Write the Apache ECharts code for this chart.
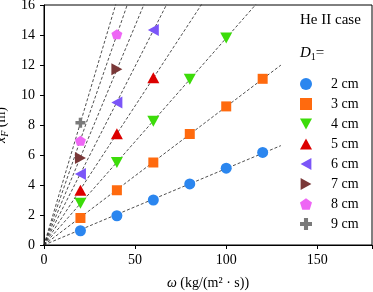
<!DOCTYPE html>
<html>
<head>
<meta charset="utf-8">
<script src="https://cdn.jsdelivr.net/npm/echarts@6/dist/echarts.min.js"></script>
<style>html,body{margin:0;padding:0;background:#fff}#c{width:373px;height:292px}</style>
</head>
<body>
<div id="c"></div>
<script>
// ---- data ----
const labels = ['2 cm','3 cm','4 cm','5 cm','6 cm','7 cm','8 cm','9 cm'];
const omega2 = [20,40,60,80,100,120];
const xf2    = [0.95,1.95,3.0,4.07,5.12,6.17];
const omega3 = [20,40,60,80,100,120];
const xf3    = [1.8,3.65,5.5,7.4,9.24,11.08];
const omega4 = [20,40,60,80,100];
const xf4    = [2.78,5.5,8.25,11.05,13.8];
const omega5 = [20,40,60];
const xf5    = [3.65,7.42,11.15];
const omega6 = [20,40,60];
const xf6    = [4.73,9.5,14.33];
const omega7 = [20,40];
const xf7    = [5.8,11.72];
const omega8 = [20,40];
const xf8    = [6.95,14.05];
const omega9 = [20];
const xf9    = [8.15];
const fitXMax = 130;
const xTicks = [0,50,100,150];
const yTicks = [0,2,4,6,8,10,12,14,16];

// ---- styles ----
const colors = ['#2b86ef','#ff6a0e','#3cdc0a','#dc0000','#7b55f8','#7a3838','#ee66f5','#7a7a7a'];
const symbols = [
  'circle',
  'rect',
  'path://M0,0 L10,0 L5,9 Z',
  'path://M5,0 L10,9 L0,9 Z',
  'path://M9,0 L9,10 L0,5 Z',
  'path://M0,0 L0,10 L9,5 Z',
  'path://M5,0 L10,3.6 L8.1,9.5 L1.9,9.5 L0,3.6 Z',
  'path://M3.3,0 L6.7,0 L6.7,3.3 L10,3.3 L10,6.7 L6.7,6.7 L6.7,10 L3.3,10 L3.3,6.7 L0,6.7 L0,3.3 L3.3,3.3 Z'
];
const sizes = [11,10,[12,11],[12,11],[11,12],[11,12],[11,10],[10,10]];

const groups = [[omega2,xf2],[omega3,xf3],[omega4,xf4],[omega5,xf5],[omega6,xf6],[omega7,xf7],[omega8,xf8],[omega9,xf9]];
const serif = 'Liberation Serif';

const series = [];
groups.forEach((g,i)=>{
  const [xs,ys] = g;
  let sxy=0, sxx=0;
  xs.forEach((x,k)=>{ sxy += x*ys[k]; sxx += x*x; });
  const slope = sxy/sxx;
  series.push({
    type:'line', data:[[0,0],[fitXMax, slope*fitXMax]], symbol:'none', silent:true,
    lineStyle:{color:'#222', width:0.8, type:[3,2]}, z:1, clip:true, legendHoverLink:false
  });
});
groups.forEach((g,i)=>{
  const [xs,ys] = g;
  series.push({
    name: labels[i], type:'scatter', data: xs.map((x,k)=>[x,ys[k]]),
    symbol: symbols[i], symbolSize: sizes[i],
    itemStyle:{color:colors[i], opacity:1}, z:3
  });
});

const chart = echarts.init(document.getElementById('c'), null, {renderer:'canvas'});
chart.setOption({
  animation:false,
  grid:{left:44, top:5, right:1, bottom:47, containLabel:false, outerBoundsMode:'none',
    show:true, borderColor:'#000', borderWidth:1, backgroundColor:'transparent'},
  xAxis:{
    type:'value', min:0, max:180, interval:50,
    axisLine:{show:true, lineStyle:{color:'#000', width:1}},
    axisTick:{show:true, length:4, inside:false, lineStyle:{color:'#000'}},
    axisLabel:{color:'#000', fontFamily:serif, fontSize:14, margin:8,
      formatter:v=> xTicks.includes(v) ? String(v) : ''},
    splitLine:{show:false},
    name:'{i|ω} (kg/(m² · s))', nameLocation:'middle', nameGap:31,
    nameTextStyle:{color:'#000', fontFamily:serif, fontSize:14,
      rich:{i:{fontFamily:serif, fontStyle:'italic', fontSize:14, color:'#000'}}}
  },
  yAxis:{
    type:'value', min:0, max:16, interval:2,
    axisLine:{show:true, lineStyle:{color:'#000', width:1}},
    axisTick:{show:true, length:4, inside:false, lineStyle:{color:'#000'}},
    axisLabel:{color:'#000', fontFamily:serif, fontSize:14, margin:9,
      formatter:v=> yTicks.includes(v) ? String(v) : ''},
    splitLine:{show:false},
    name:'{i|x}{s|F} (m)', nameLocation:'middle', nameGap:33,
    nameTextStyle:{color:'#000', fontFamily:serif, fontSize:14, lineHeight:18,
      rich:{
        i:{fontFamily:serif, fontStyle:'italic', fontSize:14, color:'#000', lineHeight:18},
        s:{fontFamily:serif, fontStyle:'italic', fontSize:10, color:'#000', verticalAlign:'bottom', lineHeight:14}
      }}
  },
  legend:{
    orient:'vertical', left:300, top:77, padding:0, itemGap:6,
    itemWidth:12, itemHeight:12,
    textStyle:{color:'#000', fontFamily:serif, fontSize:14, lineHeight:12, padding:[0,0,0,14]},
    data: labels.map((l,i)=>({name:l, icon:symbols[i], itemStyle:{color:colors[i]}})),
    selectedMode:false
  },
  graphic:[
    {type:'text', left:300, top:13, style:{text:'He II case', font:'15px "Liberation Serif"', fill:'#000'}},
    {type:'text', left:300, top:46, style:{
      text:'{i|D}{s|1}{n|=}', fill:'#000',
      rich:{
        i:{fontFamily:serif, fontStyle:'italic', fontSize:15, lineHeight:18},
        s:{fontFamily:serif, fontSize:10, lineHeight:13, verticalAlign:'bottom'},
        n:{fontFamily:serif, fontSize:15, lineHeight:18}
      }}}
  ],
  series
});
</script>
</body>
</html>
